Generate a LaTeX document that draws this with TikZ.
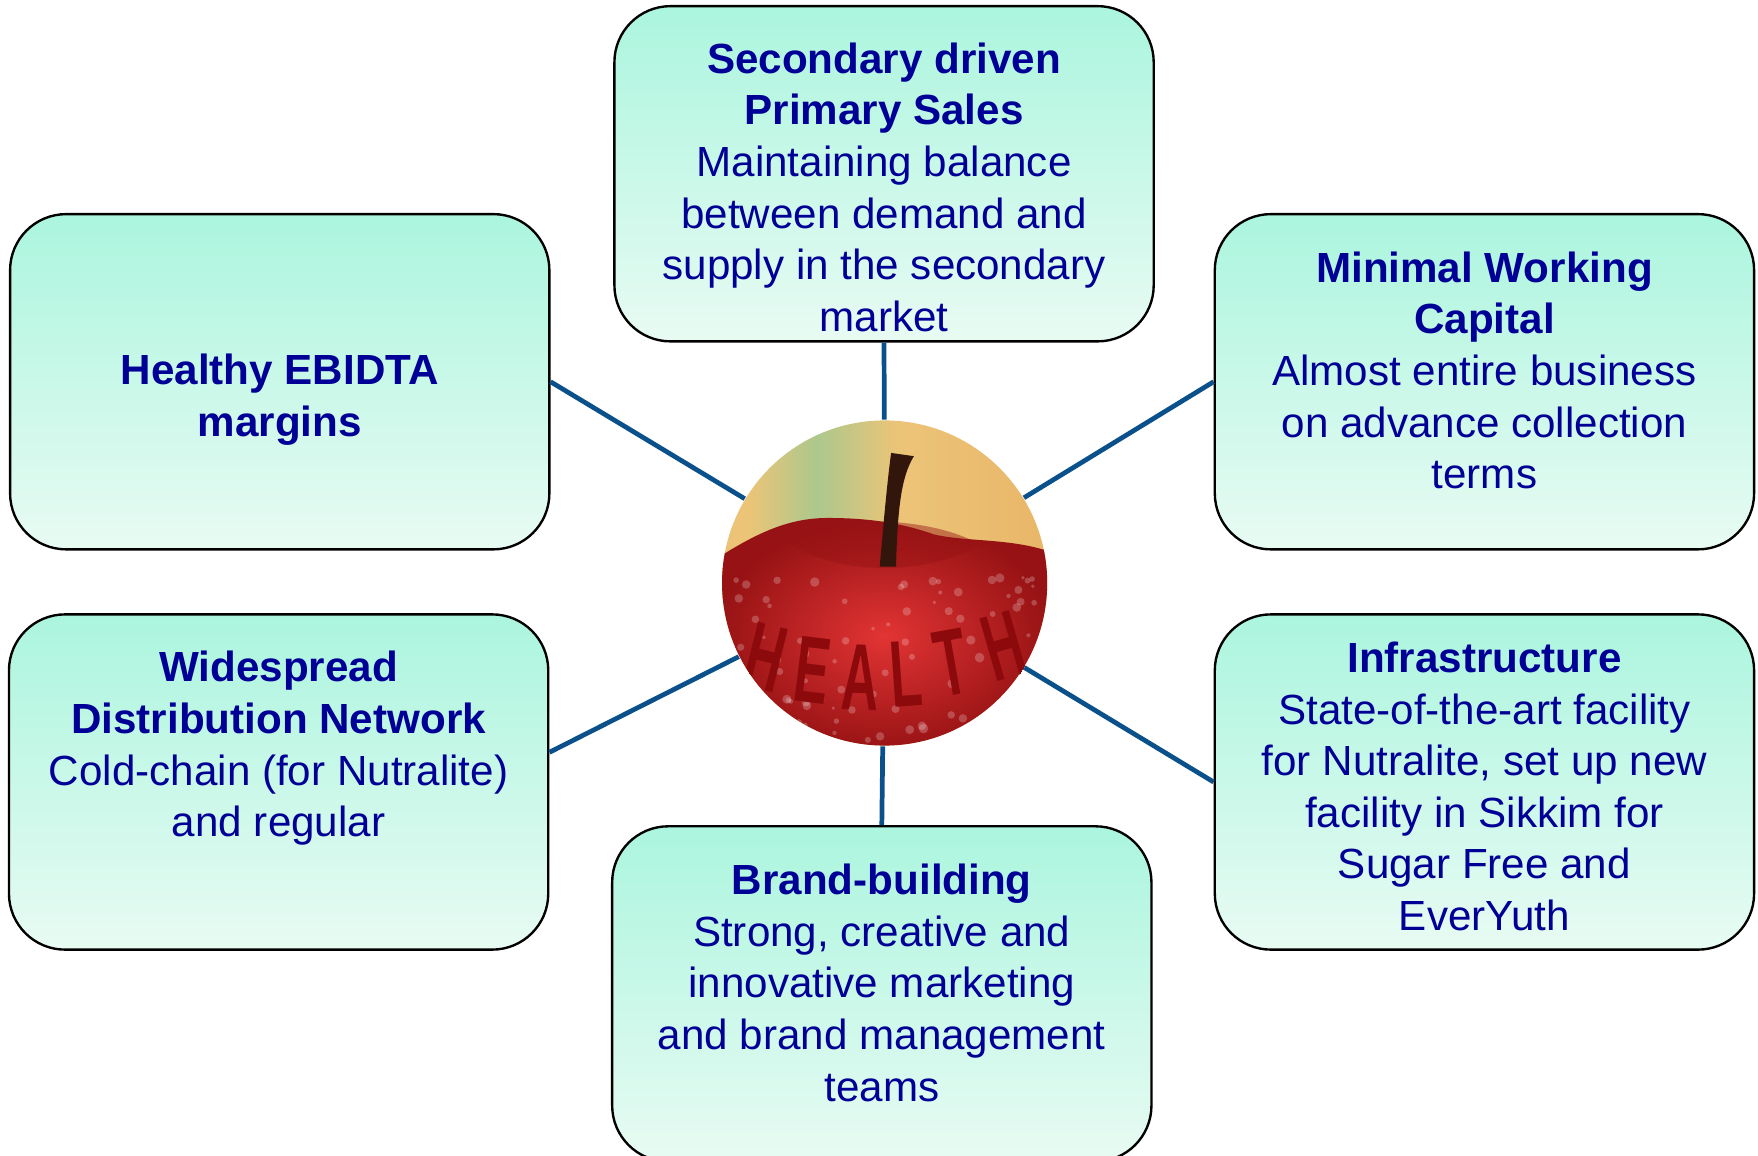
\documentclass[tikz,border=0pt]{standalone}
\usepackage{fontspec}
\setmainfont{Liberation Sans}
\usepackage{xcolor}
\usepackage{tikz}

\definecolor{textblue}{RGB}{0,0,150}
\definecolor{boxtop}{RGB}{171,245,222}
\definecolor{boxbottom}{RGB}{232,251,243}
\definecolor{spokeblue}{RGB}{10,80,138}
\definecolor{skyorange}{RGB}{232,178,100}
\definecolor{skygreen}{RGB}{172,200,140}
\definecolor{skyyellow}{RGB}{236,196,120}
\definecolor{applered}{RGB}{226,52,52}
\definecolor{appledark}{RGB}{150,18,20}
\definecolor{stembrown}{RGB}{50,22,12}
\definecolor{letterdark}{RGB}{140,10,12}

\pgfdeclarehorizontalshading{applesky}{100bp}{color(0bp)=(skyorange); color(30bp)=(skyyellow); color(40bp)=(skygreen); color(52bp)=(skyyellow); color(80bp)=(skyorange); color(100bp)=(skygreen)}

\begin{document}
\begin{tikzpicture}[
        box/.style={draw=black, line width=0.6pt, rounded corners=0.5cm,
            top color=boxtop, bottom color=boxbottom,
            minimum width=4.81cm, minimum height=2.99cm},
        boxtext/.style={align=center, text=textblue, inner sep=0pt,
            font=\fontsize{10.7}{13.1}\selectfont},
        spoke/.style={draw=spokeblue, line width=1.2pt},
        letter/.style={font=\fontsize{24}{24}\selectfont\bfseries, xscale=0.55, inner sep=0pt}
    ]
    \useasboundingbox (0,0) rectangle (15.68,10.31);

    % The six boxes
    \node[box] (ebidta) at (2.495,6.905) {};
    \node[box] (secondary) at (7.885,8.76) {};
    \node[box] (minimal) at (13.24,6.905) {};
    \node[box] (widespread) at (2.485,3.335) {};
    \node[box] (infra) at (13.24,3.335) {};
    \node[box] (brand) at (7.865,1.445) {};

    % Texts of the boxes
    \node[boxtext, yshift=-1.6mm] (ebidta-t) at (ebidta) {\textbf{Healthy EBIDTA}\\\textbf{margins}};
    \node[boxtext, yshift=-1.2mm] (secondary-t) at (secondary) {\textbf{Secondary driven}\\\textbf{Primary Sales}\\Maintaining balance\\between demand and\\supply in the secondary\\market};
    \node[boxtext, yshift=1mm] (minimal-t) at (minimal) {\textbf{Minimal Working}\\\textbf{Capital}\\Almost entire business\\on advance collection\\terms};
    \node[boxtext, yshift=3mm] (widespread-t) at (widespread) {\textbf{Widespread}\\\textbf{Distribution Network}\\Cold-chain (for Nutralite)\\and regular};
    \node[boxtext, yshift=-0.4mm] (infra-t) at (infra) {\textbf{Infrastructure}\\State-of-the-art facility\\for Nutralite, set up new\\facility in Sikkim for\\Sugar Free and\\EverYuth};
    \node[boxtext, yshift=1mm] (brand-t) at (brand) {\textbf{Brand-building}\\Strong, creative and\\innovative marketing\\and brand management\\teams};

    % Apple in the middle
    \node[circle, minimum size=2.9cm, inner sep=0pt, path picture={
        \begin{scope}[shift={(path picture bounding box.center)}, x=1.45cm, y=1.45cm]
            \shade[shading=applesky] (-1.05,-1.05) rectangle (1.05,1.05);
            \shade[inner color=applered, outer color=appledark]
                (-1.05,0.14) .. controls (-0.8,0.30) and (-0.6,0.40) .. (-0.35,0.40)
                .. controls (-0.1,0.40) and (0.1,0.37) .. (0.3,0.30)
                .. controls (0.5,0.25) and (0.8,0.28) .. (1.05,0.18)
                -- (1.05,-1.05) -- (-1.05,-1.05) -- cycle;
            \fill[appledark, opacity=0.45] (-0.6,0.26) .. controls (-0.3,0.44) and (0.3,0.40) .. (0.58,0.24)
                .. controls (0.3,0.05) and (-0.3,0.03) .. cycle;
            % drops
            \pgfmathsetseed{12}
            \foreach \i in {1,...,90} {
                \pgfmathsetmacro{\dx}{rand}
                \pgfmathsetmacro{\dy}{-1+1.05*rnd}
                \pgfmathsetmacro{\ds}{0.01+0.02*rnd}
                \fill[white, opacity=0.22] (\dx,\dy) circle (\ds);
            }
            % HEALTH
            \foreach \ch/\lx/\ly/\la [count=\k] in {H/-0.73/-0.46/-14, E/-0.44/-0.54/-7, A/-0.15/-0.58/-2, L/0.13/-0.56/4, T/0.41/-0.49/10, H/0.73/-0.39/16} {
                \node[rotate=\la, letter, text=letterdark] (letter\k) at (\lx,\ly) {\ch};
            }
            % stem
            \fill[stembrown] (-0.03,0.10) .. controls (0.0,0.45) and (0.02,0.65) .. (0.04,0.80)
                -- (0.18,0.78) .. controls (0.10,0.65) and (0.08,0.45) .. (0.07,0.10) -- cycle;
        \end{scope}
    }] (apple) at (7.89,5.11) {};

    % Spokes from the boxes to the apple
    \draw[spoke] (secondary.south) -- (apple);
    \draw[spoke] (ebidta.east) -- (apple);
    \draw[spoke] (minimal.west) -- (apple);
    \draw[spoke] ([yshift=2.65mm]widespread.east) -- (apple);
    \draw[spoke] (infra.west) -- (apple);
    \draw[spoke] (brand.north) -- (apple);

\end{tikzpicture}
\end{document}
